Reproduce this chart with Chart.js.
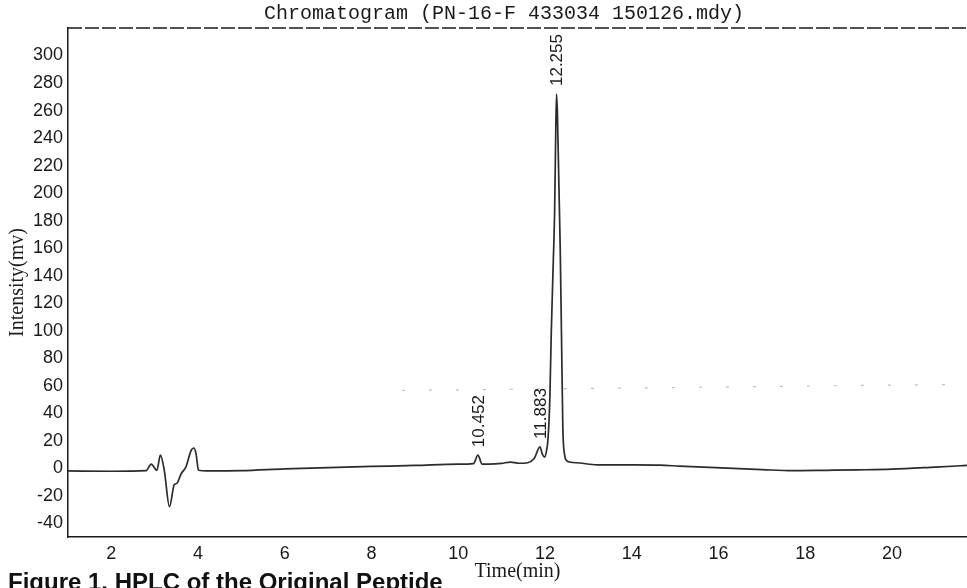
<!DOCTYPE html>
<html>
<head>
<meta charset="utf-8">
<title>Chromatogram (PN-16-F 433034 150126.mdy)</title>
<script src="https://cdn.jsdelivr.net/npm/chart.js@4.4.1/dist/chart.umd.min.js"></script>
<style>
  html, body { margin: 0; padding: 0; background: #fff; overflow: hidden; }
  #wrap { position: relative; width: 967px; height: 588px; }
  #caption {
    position: absolute; left: 8px; top: 570px;
    font: bold 24px "Liberation Sans", Arial, sans-serif; line-height: 24px;
    color: #111; white-space: nowrap;
  }
</style>
</head>
<body>
<div id="wrap">
  <canvas id="chart" width="967" height="588"></canvas>
  <div id="caption">Figure 1. HPLC of the Original Peptide</div>
</div>
<script>
// trace: time (min) / signal (mV)
const times = [
  1.0, 2.0, 2.8, 2.92, 3.05, 3.13, 3.22, 3.34, 3.45, 3.51, 3.61, 3.72, 3.84, 3.90, 3.95, 4.01, 4.2,
  5.0, 6.0, 7.0, 8.0, 9.0, 10.0, 10.35, 10.452, 10.55, 10.7, 11.0, 11.2, 11.4, 11.6, 11.75,
  11.883, 11.94, 11.99, 12.03, 12.07, 12.11, 12.145, 12.19, 12.22, 12.245, 12.265, 12.285,
  12.32, 12.35, 12.378, 12.41, 12.45, 12.50, 12.57, 12.8, 13.2, 14.0, 14.65, 15.1, 16.2, 17.0,
  17.7, 18.5, 19.2, 20.0, 21.0, 21.73
];
const intensity = [
  -2, -2.2, -1.8, 3, -1.5, 9.5, -1.5, -28, -12, -11, -4, 1, 13, 14.7, 11, -1.5, -2,
  -1.8, -0.5, 0.5, 1.3, 2, 3, 3.4, 9.5, 3, 3, 3.5, 4.5, 3.6, 4, 7,
  15.5, 10, 8, 12, 22, 50, 100, 150, 185, 240, 272, 258,
  205, 160, 100, 30, 10, 5.5, 4.5, 3.8, 2.5, 2.4, 2.2, 1.5, 0, -1,
  -1.8, -1.5, -1.2, -0.7, 0.8, 2
];

// faint dashed scan artefact across the plot
const scanTimes = [8.7, 21.73];
const scanLevels = [56.5, 61];

// integrated peaks
const peakTimes = [10.452, 11.883, 12.255];
const peakHeights = [9.5, 15.5, 272];
const peakLabels = ['10.452', '11.883', '12.255'];

const xTicks = [2, 4, 6, 8, 10, 12, 14, 16, 18, 20];
const yTicks = [-40, -20, 0, 20, 40, 60, 80, 100, 120, 140, 160, 180, 200, 220, 240, 260, 280, 300];

const sans = '"Liberation Sans", Arial, sans-serif';
const serif = '"Liberation Serif", "Times New Roman", serif';
const ink = '#1a1a1a';

const framePlugin = {
  id: 'frame',
  afterDraw(chart) {
    const { ctx, chartArea } = chart;
    ctx.save();
    // dashed top border
    ctx.strokeStyle = ink;
    ctx.lineWidth = 1.5;
    ctx.setLineDash([14, 3]);
    ctx.beginPath();
    ctx.moveTo(chartArea.left, chartArea.top);
    ctx.lineTo(chartArea.right, chartArea.top);
    ctx.stroke();
    ctx.setLineDash([]);

    // title
    ctx.fillStyle = ink;
    ctx.font = '20px "Liberation Mono", "DejaVu Sans Mono", monospace';
    ctx.textAlign = 'center';
    ctx.textBaseline = 'middle';
    ctx.fillText('Chromatogram (PN-16-F 433034 150126.mdy)', 504, 14);

    // peak retention time labels, rotated
    const xs = chart.scales.x;
    const ys = chart.scales.y;
    ctx.font = '17px ' + sans;
    ctx.textAlign = 'left';
    peakTimes.forEach((t, i) => {
      const px = xs.getPixelForValue(t) + 1.5;
      const py = ys.getPixelForValue(peakHeights[i]) - 8;
      ctx.save();
      ctx.translate(px, py);
      ctx.rotate(-Math.PI / 2);
      ctx.fillText(peakLabels[i], 0, 0);
      ctx.restore();
    });
    ctx.restore();
  },
};

new Chart(document.getElementById('chart'), {
  type: 'line',
  data: {
    datasets: [
      {
        data: times.map((t, i) => ({ x: t, y: intensity[i] })),
        borderColor: '#2b2b2b',
        borderWidth: 1.7,
        pointRadius: 0,
        cubicInterpolationMode: 'monotone',
      },
      {
        data: scanTimes.map((t, i) => ({ x: t, y: scanLevels[i] })),
        borderColor: 'rgba(0,0,0,0.25)',
        borderWidth: 1.2,
        borderDash: [3, 24],
        pointRadius: 0,
      },
    ],
  },
  options: {
    responsive: false,
    animation: false,
    devicePixelRatio: 1,
    layout: { padding: { top: 28, left: 0, right: 0, bottom: 0 } },
    plugins: { legend: { display: false }, tooltip: { enabled: false } },
    scales: {
      x: {
        type: 'linear',
        min: 1,
        max: 21.73,
        afterFit: (s) => { s.height = 51; },
        afterBuildTicks: (s) => { s.ticks = xTicks.map((v) => ({ value: v })); },
        grid: { display: false, drawTicks: false },
        border: { display: true, color: ink, width: 1.5, dash: [14, 3] },
        ticks: { font: { family: sans, size: 18 }, color: ink, padding: 6, maxRotation: 0 },
        title: {
          display: true, text: 'Time(min)', color: ink,
          font: { family: serif, size: 20 }, padding: { top: 0, bottom: 4 },
        },
      },
      y: {
        min: -50,
        max: 320,
        afterFit: (s) => { s.width = 68; },
        afterBuildTicks: (s) => { s.ticks = yTicks.map((v) => ({ value: v })); },
        grid: { display: false, drawTicks: false },
        border: { display: true, color: ink, width: 1.5, dash: [14, 3] },
        ticks: { font: { family: sans, size: 18 }, color: ink, padding: 5 },
        title: {
          display: true, text: 'Intensity(mv)', color: ink,
          font: { family: serif, size: 20 }, padding: { top: 6, bottom: 0 },
        },
      },
    },
  },
  plugins: [framePlugin],
});
</script>
</body>
</html>
